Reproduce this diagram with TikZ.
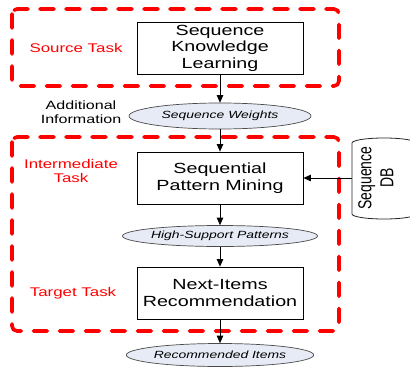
\documentclass[tikz,border=0pt]{standalone}
\usepackage{fontspec}
\usepackage{graphicx}
\usetikzlibrary{arrows.meta, calc, positioning, shapes.geometric}
\newfontfamily\diagfont[FakeStretch=1.34]{Liberation Sans}
\newfontfamily\dbfont{Liberation Sans}
\definecolor{taskred}{HTML}{FF0000}
\definecolor{weightfill}{HTML}{E6EBF5}
\definecolor{weightdraw}{HTML}{4A4A4A}

\begin{document}
\begin{tikzpicture}[
    x=1pt,
    y=-1pt,
    font=\diagfont,
    stepbox/.style={
        draw=black,
        line width=0.8pt,
        minimum width=166pt,
        minimum height=52pt,
        align=center,
        inner sep=2pt,
        font=\diagfont\fontsize{14.7}{16.5}\selectfont
    },
    dataellipse/.style={
        ellipse,
        draw=weightdraw,
        fill=weightfill,
        line width=0.7pt,
        minimum width=182pt,
        minimum height=24pt,
        inner sep=0pt,
        font=\diagfont\itshape\fontsize{10.4}{12}\selectfont
    },
    tasklabel/.style={
        text=taskred,
        align=center,
        font=\diagfont\fontsize{12.6}{14}\selectfont
    },
    taskframe/.style={
        draw=taskred,
        line width=3.6pt,
        dash pattern=on 14pt off 12pt,
        line cap=round,
        rounded corners=5pt
    },
    arr/.style={
        -{Triangle[length=7.5pt,width=6.5pt]},
        draw=black,
        line width=0.7pt
    },
    dbline/.style={
        draw=black!85,
        line width=0.8pt
    }
]

\useasboundingbox (0,0) rectangle (410,367);

% -----------------------------------------------------
% Task frames
% -----------------------------------------------------

\draw[taskframe] (12,9) rectangle (339,86);
\draw[taskframe] (12,137) rectangle (339,331);

\node[tasklabel] (sourcetask) at (76,48) {Source Task};
\node[tasklabel] (midtask) at (71,171) {Intermediate\\Task};
\node[tasklabel] (targettask) at (73,293) {Target Task};

% -----------------------------------------------------
% Steps and data
% -----------------------------------------------------

\node[stepbox] (learn) at (220,48) {Sequence\\Knowledge\\Learning};

\node[dataellipse, minimum height=26pt] (weights) at (220,116) {Sequence Weights};

\node[align=center, font=\diagfont\fontsize{12}{13.5}\selectfont] (addinfo) at (81,112)
    {Additional\\Information};

\node[stepbox] (mining) at (220,178) {Sequential\\Pattern Mining};

\node[dataellipse, minimum height=21pt] (patterns) at (220,236) {High-Support Patterns};

\node[stepbox] (recom) at (220,293) {Next-Items\\Recommendation};

\node[dataellipse, minimum height=23pt] (items) at (220,355) {Recommended Items};

% Sequence database (cylinder, runs off the right edge)
\node[minimum width=52pt, minimum height=80pt, inner sep=0pt] (db) at (378,178)
    {\rotatebox{90}{\scalebox{1}[1.34]{\dbfont\fontsize{14}{16.5}\selectfont
     \begin{tabular}{@{}c@{}}Sequence\\DB\end{tabular}}}};

\begin{scope}[shift={(db.center)}]
    \draw[dbline] (-26,36) -- (-26,-35)
        arc[start angle=180, end angle=360, x radius=32, y radius=5]
        -- (38,36)
        arc[start angle=0, end angle=180, x radius=32, y radius=5];
\end{scope}

% -----------------------------------------------------
% Flow
% -----------------------------------------------------

\draw[arr] (learn) -- (weights);
\draw[arr] (weights) -- (mining);
\draw[arr] (db.west) -- (mining.east);
\draw[arr] (mining) -- (patterns);
\draw[arr] (patterns) -- (recom);
\draw[arr] (recom) -- (items);

\end{tikzpicture}
\end{document}
